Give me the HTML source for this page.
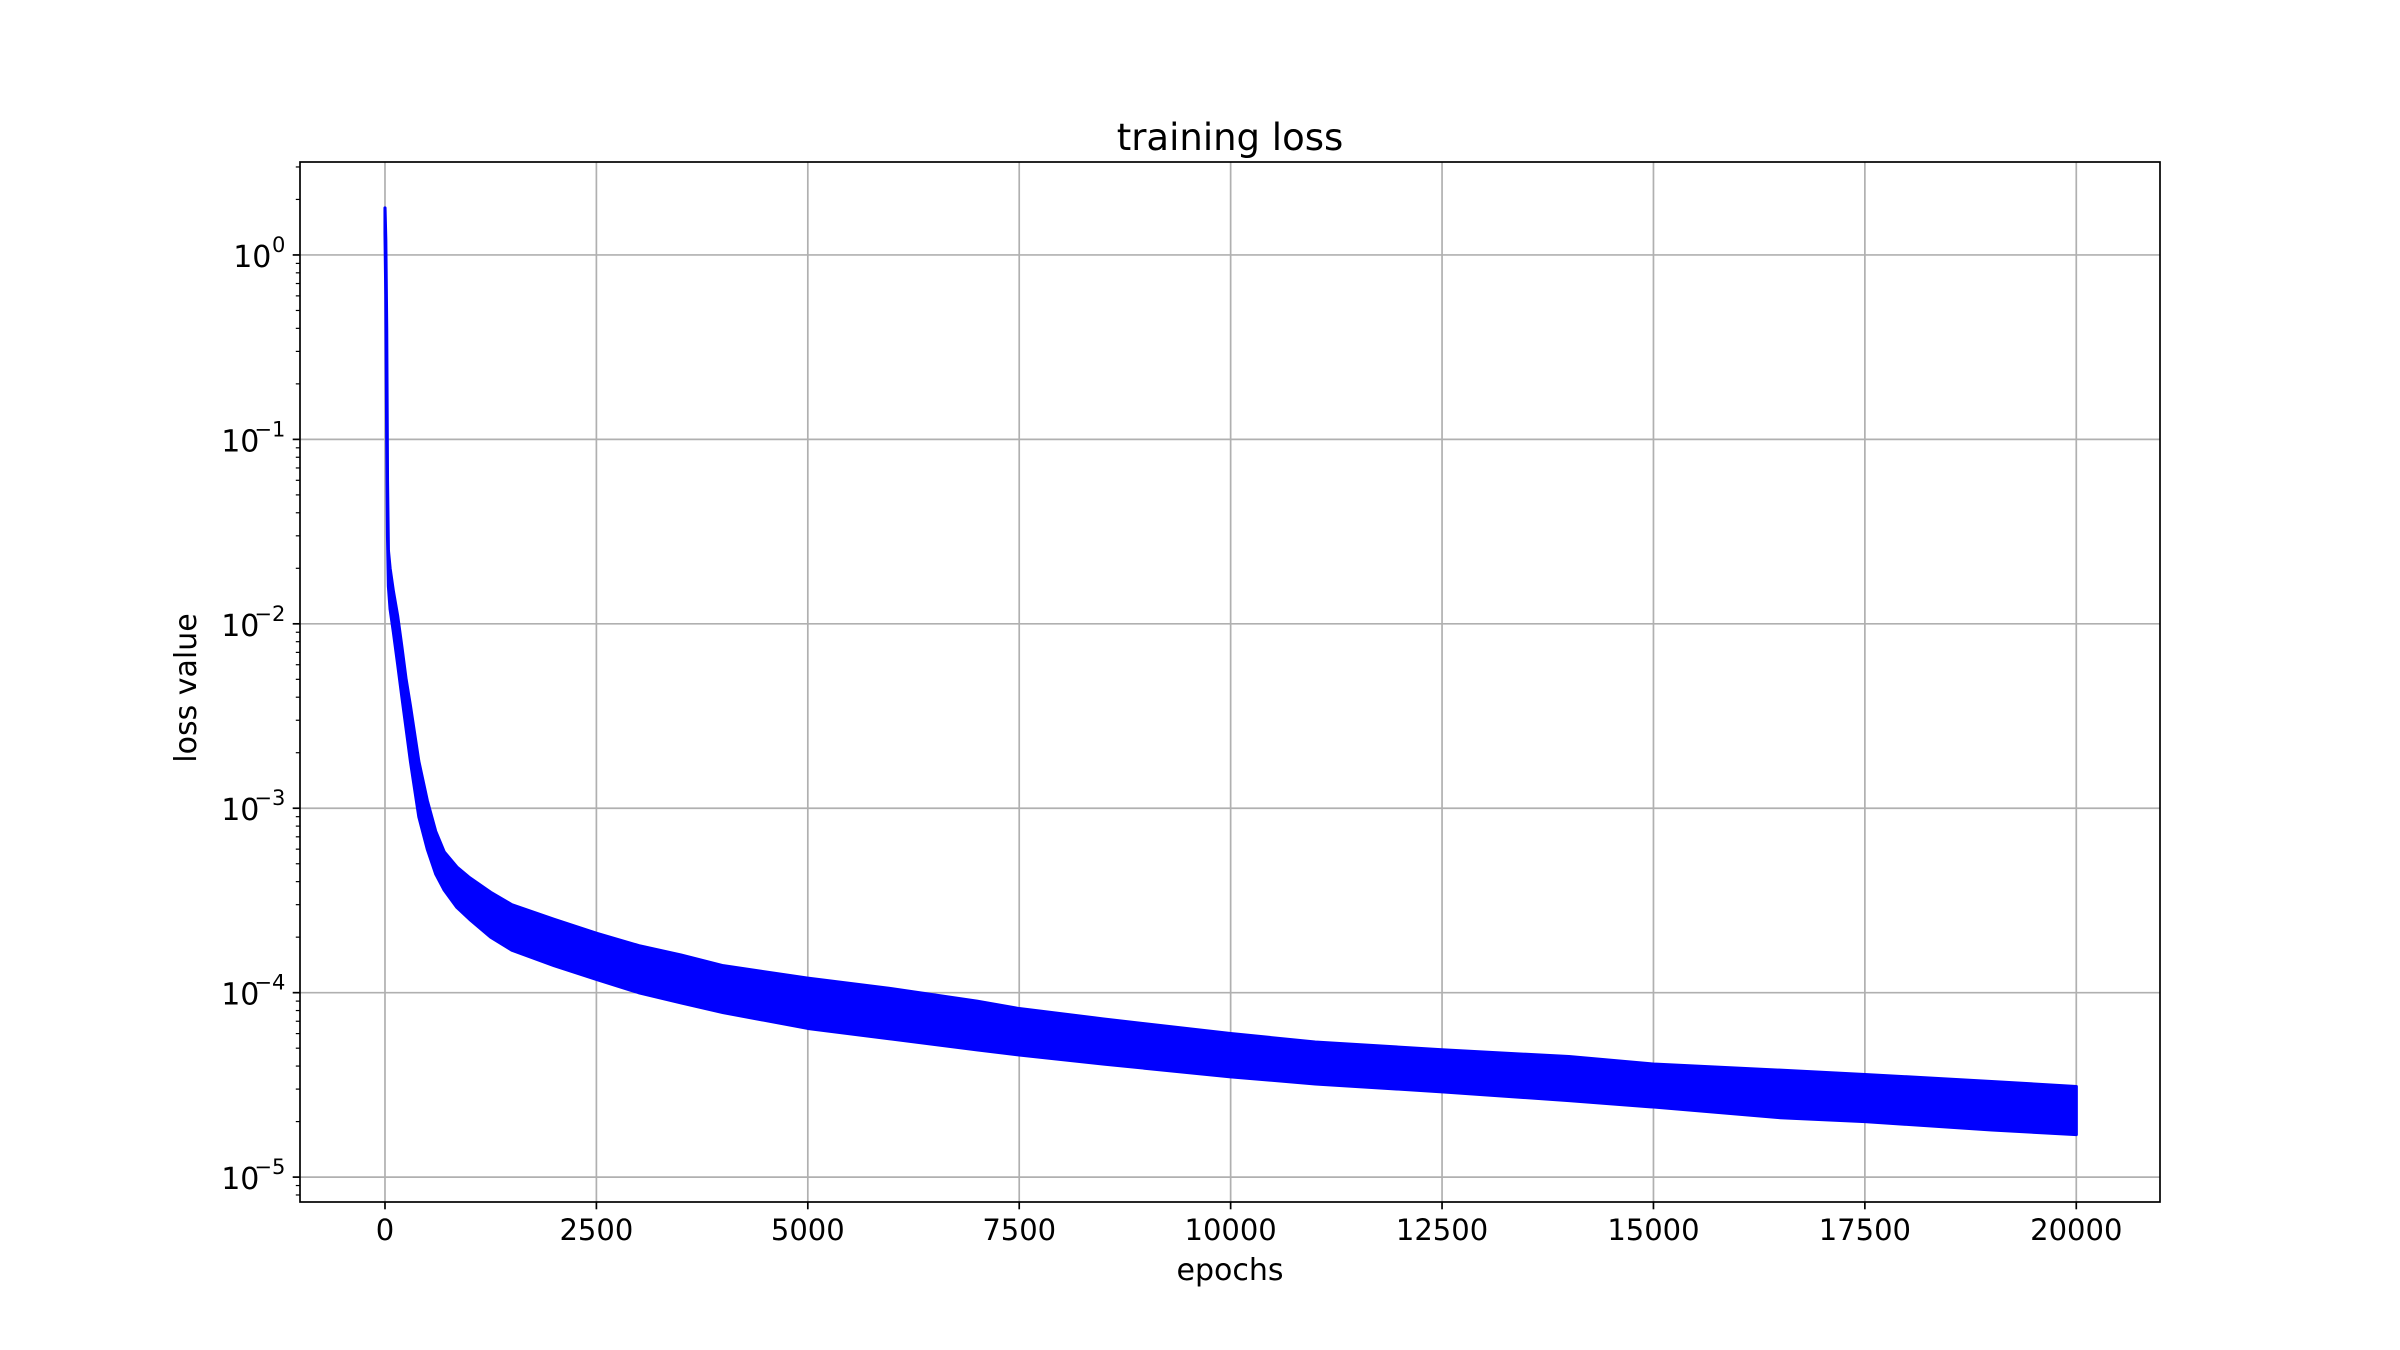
<!DOCTYPE html>
<html><head><meta charset="utf-8"><style>
html,body{margin:0;padding:0;background:#fff}
svg{display:block;font-family:"DejaVu Sans","Liberation Sans",sans-serif}
</style></head><body>
<svg id="chart" width="2400" height="1350" viewBox="0 0 2400 1350" xmlns="http://www.w3.org/2000/svg">
<rect width="2400" height="1350" fill="#fff"/>
<g id="grid"></g>
<g id="series"></g>
<g id="axes"></g>
<text x="1230" y="150" font-size="37" text-anchor="middle" fill="#000">training loss</text>
<text x="1230" y="1280" font-size="30" text-anchor="middle" fill="#000">epochs</text>
<text x="0" y="0" transform="translate(196,688) rotate(-90)" font-size="30" text-anchor="middle" fill="#000">loss value</text>
</svg>
<script>
const epochs = [0, 10, 20, 30, 40, 60, 100, 150, 200, 250, 300, 400, 500, 600, 700, 850, 1000, 1250, 1500, 2000, 2500, 3000, 3500, 4000, 5000, 6000, 7000, 7500, 8500, 10000, 11000, 12500, 14000, 15000, 16500, 17500, 19000, 20000];
const lossUpper = [1.8, 1.2, 0.4, 0.06, 0.025, 0.02, 0.015, 0.011, 0.0075, 0.005, 0.0036, 0.0018, 0.0011, 0.00075, 0.00058, 0.00048, 0.00042, 0.00035, 0.0003, 0.00025, 0.00021, 0.00018, 0.00016, 0.00014, 0.00012, 0.000105, 0.00009, 0.000082, 0.000072, 0.00006, 0.000054, 0.000049, 0.000045, 0.000041, 0.000038, 0.000036, 0.000033, 0.000031];
const lossLower = [1.3, 0.6, 0.1, 0.03, 0.016, 0.012, 0.009, 0.006, 0.004, 0.0027, 0.0018, 0.0009, 0.0006, 0.00044, 0.00036, 0.00029, 0.00025, 0.0002, 0.00017, 0.00014, 0.000118, 0.0001, 0.000088, 0.000078, 0.000064, 0.000056, 0.000049, 0.000046, 0.000041, 0.000035, 0.000032, 0.000029, 0.000026, 0.000024, 0.000021, 0.00002, 0.000018, 0.000017];
const xTicks = [0, 2500, 5000, 7500, 10000, 12500, 15000, 17500, 20000];
const yDecades = [0, -1, -2, -3, -4, -5];

const L = 300, R = 2160, T = 162, B = 1202;
const X0 = -1005, X1 = 20990, LY0 = -5.135, LY1 = 0.504;
function xs(v){ return L + (v - X0) / (X1 - X0) * (R - L); }
function ys(v){ return B - (Math.log10(v) - LY0) / (LY1 - LY0) * (B - T); }
const NS = "http://www.w3.org/2000/svg";
function mk(tag, attrs, parent){ const e = document.createElementNS(NS, tag); for (const k in attrs) e.setAttribute(k, attrs[k]); parent.appendChild(e); return e; }
const grid = document.getElementById('grid'), axes = document.getElementById('axes'), series = document.getElementById('series');

xTicks.forEach(t => {
  const x = xs(t);
  const g = mk('line', {x1:x, x2:x, y1:T, y2:B, stroke:'#b0b0b0', 'stroke-width':1.7}, grid);
  
  
  const tk = mk('line', {x1:x, x2:x, y1:B, y2:B+7.3, stroke:'#000', 'stroke-width':1.7}, axes);
  
  
  const lb = mk('text', {x:x, y:1240, 'font-size':29, 'text-anchor':'middle', fill:'#000'}, axes);
  lb.textContent = String(t);
  
  
});

yDecades.forEach(d => {
  const y = ys(Math.pow(10, d));
  const g = mk('line', {x1:L, x2:R, y1:y, y2:y, stroke:'#b0b0b0', 'stroke-width':1.7}, grid);
  
  
  const tk = mk('line', {x1:L-7.3, x2:L, y1:y, y2:y, stroke:'#000', 'stroke-width':1.7}, axes);
  
  
  const lb = mk('text', {x:L-14.6-(d<0?26:14), y:y+12, 'font-size':30, 'text-anchor':'end', fill:'#000'}, axes);
  lb.textContent = '10';
  
  
  const sp = mk('text', {x:L-14.6, y:y-3, 'font-size':21, 'text-anchor':'end', fill:'#000'}, axes);
  sp.textContent = d < 0 ? '\u2212' + (-d) : String(d);
  
  
});
for (let d = -6; d <= 0; d++) {
  for (let m = 2; m <= 9; m++) {
    const v = m * Math.pow(10, d);
    const y = ys(v);
    if (y < T || y > B) continue;
    const tk = mk('line', {x1:L-4.2, x2:L, y1:y, y2:y, stroke:'#000', 'stroke-width':1.2}, axes);
    
    
  }
}

let pts = [];
for (let i = 0; i < epochs.length; i++) pts.push(xs(epochs[i]).toFixed(1) + ',' + ys(lossUpper[i]).toFixed(1));
for (let i = epochs.length - 1; i >= 0; i--) pts.push(xs(epochs[i]).toFixed(1) + ',' + ys(lossLower[i]).toFixed(1));
const band = mk('polygon', {points: pts.join(' '), fill:'#0000ff', stroke:'#0000ff', 'stroke-width':3.1, 'stroke-linejoin':'round'}, series);



const frame = mk('rect', {x:L, y:T, width:R-L, height:B-T, fill:'none', stroke:'#000', 'stroke-width':1.7}, axes);


</script>
</body></html>
